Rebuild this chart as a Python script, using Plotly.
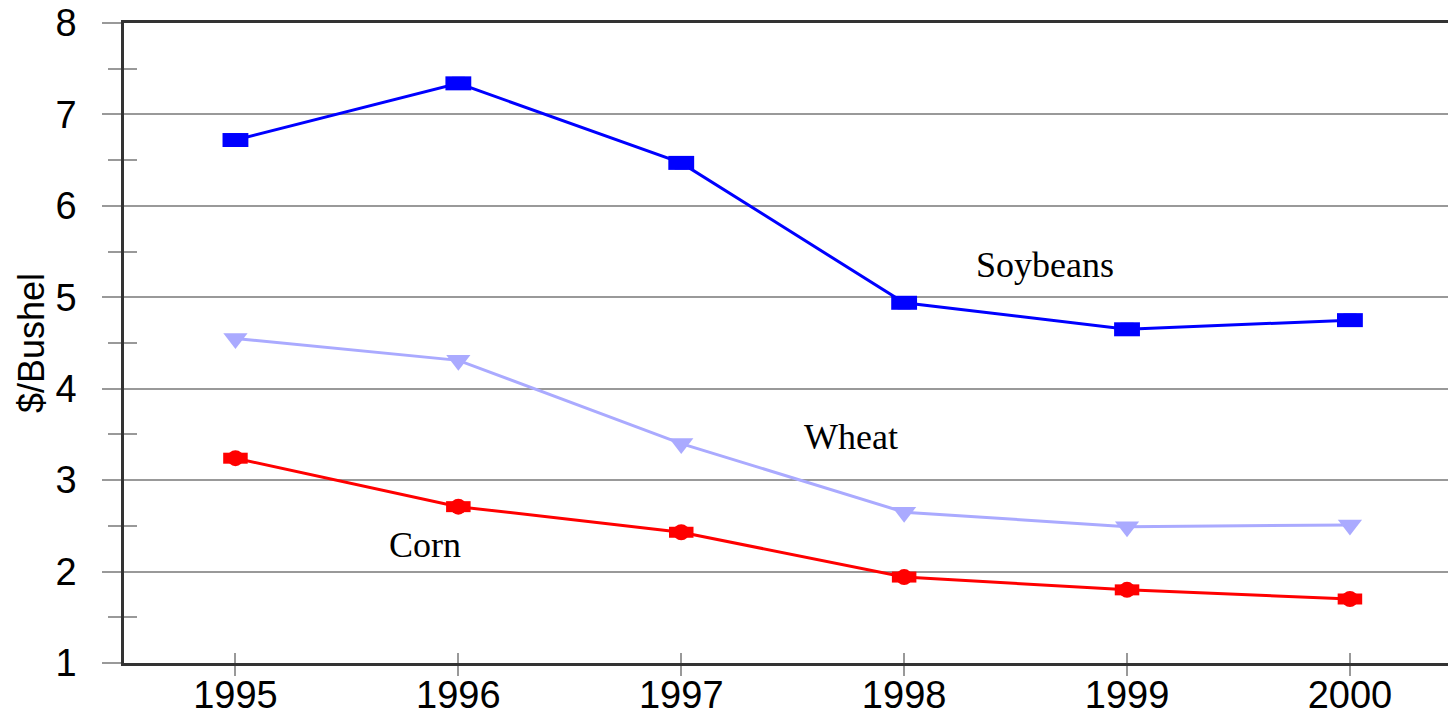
import plotly.graph_objects as go

years = [1995, 1996, 1997, 1998, 1999, 2000]
soybeans = [6.72, 7.34, 6.47, 4.94, 4.65, 4.75]
wheat = [4.55, 4.31, 3.40, 2.65, 2.49, 2.51]
corn = [3.24, 2.71, 2.43, 1.94, 1.80, 1.70]
y_ticks = [1, 2, 3, 4, 5, 6, 7, 8]

labels = [("Soybeans", 1998.63, 5.35), ("Wheat", 1997.76, 3.47), ("Corn", 1995.85, 2.29)]

BLUE = "#0000ff"
LIGHT = "#aaaaff"
RED = "#ff0000"
GRID = "#999999"
DARK = "#333333"

fig = go.Figure()

fig.add_trace(go.Scatter(
    x=years, y=wheat, mode="lines+markers",
    line=dict(color=LIGHT, width=3),
    marker=dict(symbol="triangle-down", size=21, color=LIGHT),
    showlegend=False))

fig.add_trace(go.Scatter(
    x=years, y=corn, mode="lines+markers",
    line=dict(color=RED, width=3),
    marker=dict(symbol="circle", size=16, color=RED),
    error_x=dict(type="constant", value=0.055, thickness=11, width=0, color=RED),
    showlegend=False))

fig.add_trace(go.Scatter(
    x=years, y=soybeans, mode="lines+markers",
    line=dict(color=BLUE, width=3),
    marker=dict(symbol="square", size=13, color=BLUE),
    error_x=dict(type="constant", value=0.058, thickness=14, width=0, color=BLUE),
    showlegend=False))

# dummy trace for overlay axes that give the crossing ticks
fig.add_trace(go.Scatter(x=[], y=[], xaxis="x2", yaxis="y2", showlegend=False))

for text, xv, yv in labels:
    fig.add_annotation(x=xv, y=yv, text=text, showarrow=False,
                       font=dict(family="Liberation Serif", size=36, color="black"))

xr = [1994.5, 2000.44]
yr = [1, 8]

fig.update_layout(
    width=1448, height=718,
    margin=dict(l=124, r=0, t=23, b=55, autoexpand=False),
    paper_bgcolor="white", plot_bgcolor="white",
    font=dict(family="Liberation Sans", color="black"),
    xaxis=dict(
        range=xr, tickvals=years, ticktext=[str(y) for y in years],
        ticks="outside", ticklen=10, tickcolor=GRID, tickwidth=1.5,
        showline=True, linecolor=DARK, linewidth=2.5, mirror=True,
        showgrid=False, zeroline=False, automargin=False,
        ticklabelstandoff=-13,
        tickfont=dict(size=38, family="Liberation Sans", color="black")),
    yaxis=dict(
        range=yr, tickvals=y_ticks,
        ticks="outside", ticklen=19, tickcolor=GRID, tickwidth=1.5,
        minor=dict(dtick=0.5, tick0=1, ticks="outside", ticklen=13, tickcolor=GRID, tickwidth=1.5, showgrid=False),
        showline=True, linecolor=DARK, linewidth=2.5,
        showgrid=True, gridcolor=GRID, gridwidth=1.5, zeroline=False,
        ticklabelstandoff=18, automargin=False,
        tickfont=dict(size=38, family="Liberation Sans", color="black"),
        title=dict(text="$/Bushel", font=dict(size=36, family="Liberation Sans", color="black"), standoff=0)),
    xaxis2=dict(
        range=xr, overlaying="x", anchor="y2", side="bottom",
        tickvals=years, ticks="inside", ticklen=10, tickcolor=GRID, tickwidth=1.5,
        showticklabels=False, showline=False, showgrid=False, zeroline=False, automargin=False),
    yaxis2=dict(
        range=yr, overlaying="y", anchor="x2", side="left",
        tickvals=y_ticks, ticks="inside", ticklen=19, tickcolor=GRID, tickwidth=1.5,
        minor=dict(dtick=0.5, tick0=1, ticks="inside", ticklen=13, tickcolor=GRID, tickwidth=1.5, showgrid=False),
        showticklabels=False, showline=False, showgrid=False, zeroline=False, automargin=False),
)

fig.write_html("out.html", config={"displayModeBar": False},
               post_script="document.body.style.margin='0';document.body.style.overflow='hidden';")
